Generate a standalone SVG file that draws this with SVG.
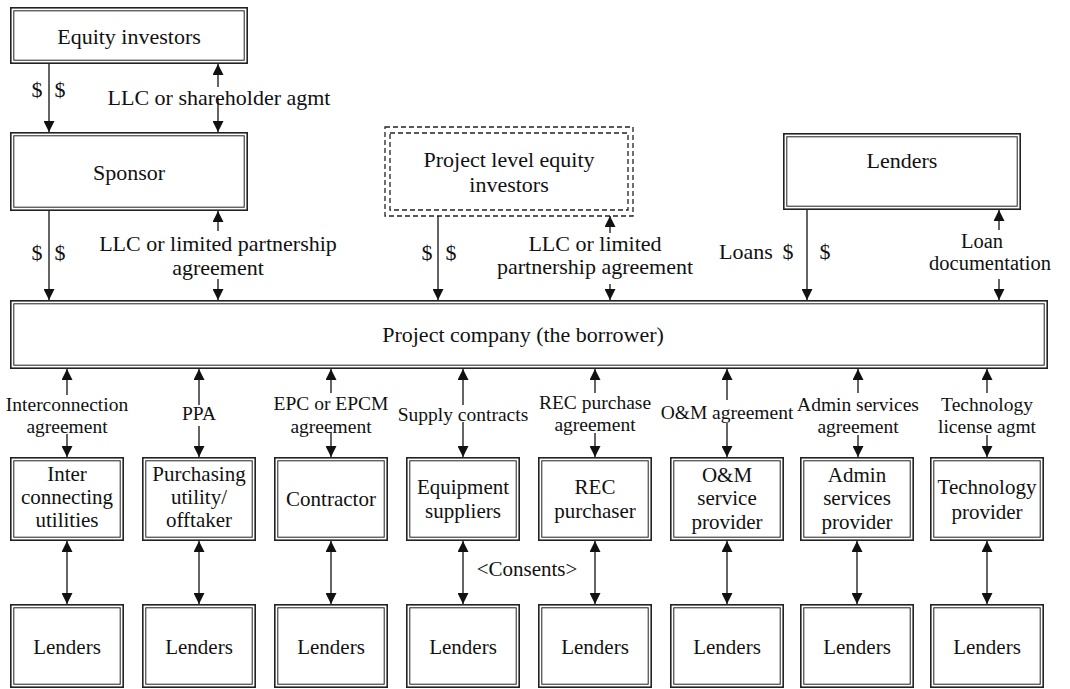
<svg xmlns="http://www.w3.org/2000/svg" width="1070" height="689" viewBox="0 0 1070 689">
<style>
.o{fill:none;stroke:#222;stroke-width:1.6}
.i{fill:none;stroke:#222;stroke-width:1}
.d{fill:none;stroke:#222;stroke-width:1.3;stroke-dasharray:5 3}
text{font-family:"Liberation Serif","Times New Roman",serif;fill:#111;text-anchor:middle}
.bt{font-size:22px}
.rt{font-size:21px}
.ul{font-size:22px}
.us{font-size:20.5px}
.ll{font-size:19.5px}
.ln{stroke:#111;stroke-width:1.3;fill:none}
.a1{marker-end:url(#ah)}
.a2{marker-start:url(#ah);marker-end:url(#ah)}
</style>
<defs>
<marker id="ah" viewBox="0 0 11 11" refX="11" refY="5.5" markerWidth="11" markerHeight="11" markerUnits="userSpaceOnUse" orient="auto-start-reverse">
<path d="M0,0 L11,5.5 L0,11 Z" fill="#111"/>
</marker>
</defs>
<rect width="1070" height="689" fill="#fff"/>

<g id="equity-investors">
<rect class="o" x="10.8" y="7.8" width="236.4" height="55.4"/>
<rect class="i" x="13.8" y="10.8" width="230.4" height="49.4"/>
<text class="bt" x="129" y="44">Equity investors</text>
</g>
<g id="sponsor">
<rect class="o" x="10.8" y="132.8" width="236.4" height="77.4"/>
<rect class="i" x="13.8" y="135.8" width="230.4" height="71.4"/>
<text class="bt" x="129" y="180">Sponsor</text>
</g>
<g id="project-level-equity">
<rect class="d" x="385" y="127" width="248" height="89"/>
<rect class="d" x="390" y="133" width="238" height="77"/>
<text class="bt" x="509" y="167">Project level equity</text>
<text class="bt" x="509" y="192">investors</text>
</g>
<g id="lenders-top">
<rect class="o" x="783.8" y="133.8" width="236.4" height="75.4"/>
<rect class="i" x="786.8" y="136.8" width="230.4" height="69.4"/>
<text class="bt" x="902" y="168">Lenders</text>
</g>
<g id="project-company">
<rect class="o" x="10.8" y="300.8" width="1036.4" height="67.4"/>
<rect class="i" x="13.8" y="303.8" width="1030.4" height="61.4"/>
<text class="bt" x="523" y="342">Project company (the borrower)</text>
</g>

<g id="interconnecting">
<rect class="o" x="10.8" y="457.8" width="112.4" height="82.4"/>
<rect class="i" x="13.8" y="460.8" width="106.4" height="76.4"/>
<text class="rt" x="67" y="481">Inter</text>
<text class="rt" x="67" y="504">connecting</text>
<text class="rt" x="67" y="527">utilities</text>
</g>
<g id="purchasing">
<rect class="o" x="142.8" y="457.8" width="112.4" height="82.4"/>
<rect class="i" x="145.8" y="460.8" width="106.4" height="76.4"/>
<text class="rt" x="199" y="481">Purchasing</text>
<text class="rt" x="199" y="504">utility/</text>
<text class="rt" x="199" y="527">offtaker</text>
</g>
<g id="contractor">
<rect class="o" x="274.8" y="457.8" width="112.4" height="82.4"/>
<rect class="i" x="277.8" y="460.8" width="106.4" height="76.4"/>
<text class="rt" x="331" y="506">Contractor</text>
</g>
<g id="equipment">
<rect class="o" x="406.8" y="457.8" width="112.4" height="82.4"/>
<rect class="i" x="409.8" y="460.8" width="106.4" height="76.4"/>
<text class="rt" x="463" y="494">Equipment</text>
<text class="rt" x="463" y="518">suppliers</text>
</g>
<g id="rec">
<rect class="o" x="538.8" y="457.8" width="112.4" height="82.4"/>
<rect class="i" x="541.8" y="460.8" width="106.4" height="76.4"/>
<text class="rt" x="595" y="494">REC</text>
<text class="rt" x="595" y="518">purchaser</text>
</g>
<g id="om">
<rect class="o" x="670.8" y="457.8" width="112.4" height="82.4"/>
<rect class="i" x="673.8" y="460.8" width="106.4" height="76.4"/>
<text class="rt" x="727" y="482">O&amp;M</text>
<text class="rt" x="727" y="505">service</text>
<text class="rt" x="727" y="529">provider</text>
</g>
<g id="admin">
<rect class="o" x="800.8" y="457.8" width="112.4" height="82.4"/>
<rect class="i" x="803.8" y="460.8" width="106.4" height="76.4"/>
<text class="rt" x="857" y="482">Admin</text>
<text class="rt" x="857" y="505">services</text>
<text class="rt" x="857" y="529">provider</text>
</g>
<g id="technology">
<rect class="o" x="930.8" y="457.8" width="112.4" height="82.4"/>
<rect class="i" x="933.8" y="460.8" width="106.4" height="76.4"/>
<text class="rt" x="987" y="494">Technology</text>
<text class="rt" x="987" y="519">provider</text>
</g>

<g id="lenders-1"><rect class="o" x="10.8" y="604.8" width="112.4" height="82.4"/><rect class="i" x="13.8" y="607.8" width="106.4" height="76.4"/><text class="rt" x="67" y="654">Lenders</text></g>
<g id="lenders-2"><rect class="o" x="142.8" y="604.8" width="112.4" height="82.4"/><rect class="i" x="145.8" y="607.8" width="106.4" height="76.4"/><text class="rt" x="199" y="654">Lenders</text></g>
<g id="lenders-3"><rect class="o" x="274.8" y="604.8" width="112.4" height="82.4"/><rect class="i" x="277.8" y="607.8" width="106.4" height="76.4"/><text class="rt" x="331" y="654">Lenders</text></g>
<g id="lenders-4"><rect class="o" x="406.8" y="604.8" width="112.4" height="82.4"/><rect class="i" x="409.8" y="607.8" width="106.4" height="76.4"/><text class="rt" x="463" y="654">Lenders</text></g>
<g id="lenders-5"><rect class="o" x="538.8" y="604.8" width="112.4" height="82.4"/><rect class="i" x="541.8" y="607.8" width="106.4" height="76.4"/><text class="rt" x="595" y="654">Lenders</text></g>
<g id="lenders-6"><rect class="o" x="670.8" y="604.8" width="112.4" height="82.4"/><rect class="i" x="673.8" y="607.8" width="106.4" height="76.4"/><text class="rt" x="727" y="654">Lenders</text></g>
<g id="lenders-7"><rect class="o" x="800.8" y="604.8" width="112.4" height="82.4"/><rect class="i" x="803.8" y="607.8" width="106.4" height="76.4"/><text class="rt" x="857" y="654">Lenders</text></g>
<g id="lenders-8"><rect class="o" x="930.8" y="604.8" width="112.4" height="82.4"/><rect class="i" x="933.8" y="607.8" width="106.4" height="76.4"/><text class="rt" x="987" y="654">Lenders</text></g>

<g id="connectors">
<line class="ln a1" x1="49" y1="64" x2="49" y2="132"/>
<text class="ul" x="37" y="97">$</text>
<text class="ul" x="60" y="97">$</text>
<line class="ln a1" x1="218" y1="87" x2="218" y2="64"/>
<line class="ln a1" x1="218" y1="98" x2="218" y2="132"/>
<text class="ul" x="219" y="105">LLC or shareholder agmt</text>

<line class="ln a1" x1="49" y1="211" x2="49" y2="300"/>
<text class="ul" x="37" y="260">$</text>
<text class="ul" x="60" y="260">$</text>
<line class="ln a1" x1="218" y1="231" x2="218" y2="211"/>
<line class="ln a1" x1="218" y1="279" x2="218" y2="300"/>
<text class="ul" x="218" y="251">LLC or limited partnership</text>
<text class="ul" x="218" y="275">agreement</text>

<line class="ln a1" x1="438" y1="216" x2="438" y2="300"/>
<text class="ul" x="427" y="260">$</text>
<text class="ul" x="451" y="260">$</text>
<line class="ln a1" x1="610" y1="233" x2="610" y2="216"/>
<line class="ln a1" x1="610" y1="284" x2="610" y2="300"/>
<text class="ul" x="595" y="251">LLC or limited</text>
<text class="ul" x="595" y="274">partnership agreement</text>

<line class="ln a1" x1="807" y1="210" x2="807" y2="300"/>
<text class="ul" x="746" y="259">Loans</text>
<text class="ul" x="788" y="259">$</text>
<text class="ul" x="825" y="259">$</text>
<line class="ln a1" x1="999" y1="230" x2="999" y2="210"/>
<line class="ln a1" x1="999" y1="279" x2="999" y2="300"/>
<text class="us" x="982" y="248">Loan</text>
<text class="us" x="990" y="270">documentation</text>

<line class="ln a1" x1="67" y1="395" x2="67" y2="369"/>
<line class="ln a1" x1="67" y1="434" x2="67" y2="457"/>
<text class="ll" x="67" y="411">Interconnection</text>
<text class="ll" x="67" y="433">agreement</text>

<line class="ln a1" x1="199" y1="405" x2="199" y2="369"/>
<line class="ln a1" x1="199" y1="426" x2="199" y2="457"/>
<text class="ll" x="199" y="420">PPA</text>

<line class="ln a1" x1="331" y1="393" x2="331" y2="369"/>
<line class="ln a1" x1="331" y1="432" x2="331" y2="457"/>
<text class="ll" x="331" y="410">EPC or EPCM</text>
<text class="ll" x="331" y="433">agreement</text>

<line class="ln a1" x1="463" y1="405" x2="463" y2="369"/>
<line class="ln a1" x1="463" y1="422" x2="463" y2="457"/>
<text class="ll" x="463" y="421">Supply contracts</text>

<line class="ln a1" x1="595" y1="393" x2="595" y2="369"/>
<line class="ln a1" x1="595" y1="433" x2="595" y2="457"/>
<text class="ll" x="595" y="409">REC purchase</text>
<text class="ll" x="595" y="431">agreement</text>

<line class="ln a1" x1="727" y1="400" x2="727" y2="369"/>
<line class="ln a1" x1="727" y1="423" x2="727" y2="457"/>
<text class="ll" x="727" y="419">O&amp;M agreement</text>

<line class="ln a1" x1="858" y1="393" x2="858" y2="369"/>
<line class="ln a1" x1="858" y1="435" x2="858" y2="457"/>
<text class="ll" x="858" y="411">Admin services</text>
<text class="ll" x="858" y="433">agreement</text>

<line class="ln a1" x1="987" y1="393" x2="987" y2="369"/>
<line class="ln a1" x1="987" y1="435" x2="987" y2="457"/>
<text class="ll" x="987" y="411">Technology</text>
<text class="ll" x="987" y="433">license agmt</text>

<line class="ln a2" x1="67" y1="541" x2="67" y2="604"/>
<line class="ln a2" x1="199" y1="541" x2="199" y2="604"/>
<line class="ln a2" x1="331" y1="541" x2="331" y2="604"/>
<line class="ln a2" x1="463" y1="541" x2="463" y2="604"/>
<line class="ln a2" x1="595" y1="541" x2="595" y2="604"/>
<line class="ln a2" x1="727" y1="541" x2="727" y2="604"/>
<line class="ln a2" x1="857" y1="541" x2="857" y2="604"/>
<line class="ln a2" x1="987" y1="541" x2="987" y2="604"/>
<text class="rt" x="527" y="576">&lt;Consents&gt;</text>
</g>
</svg>
